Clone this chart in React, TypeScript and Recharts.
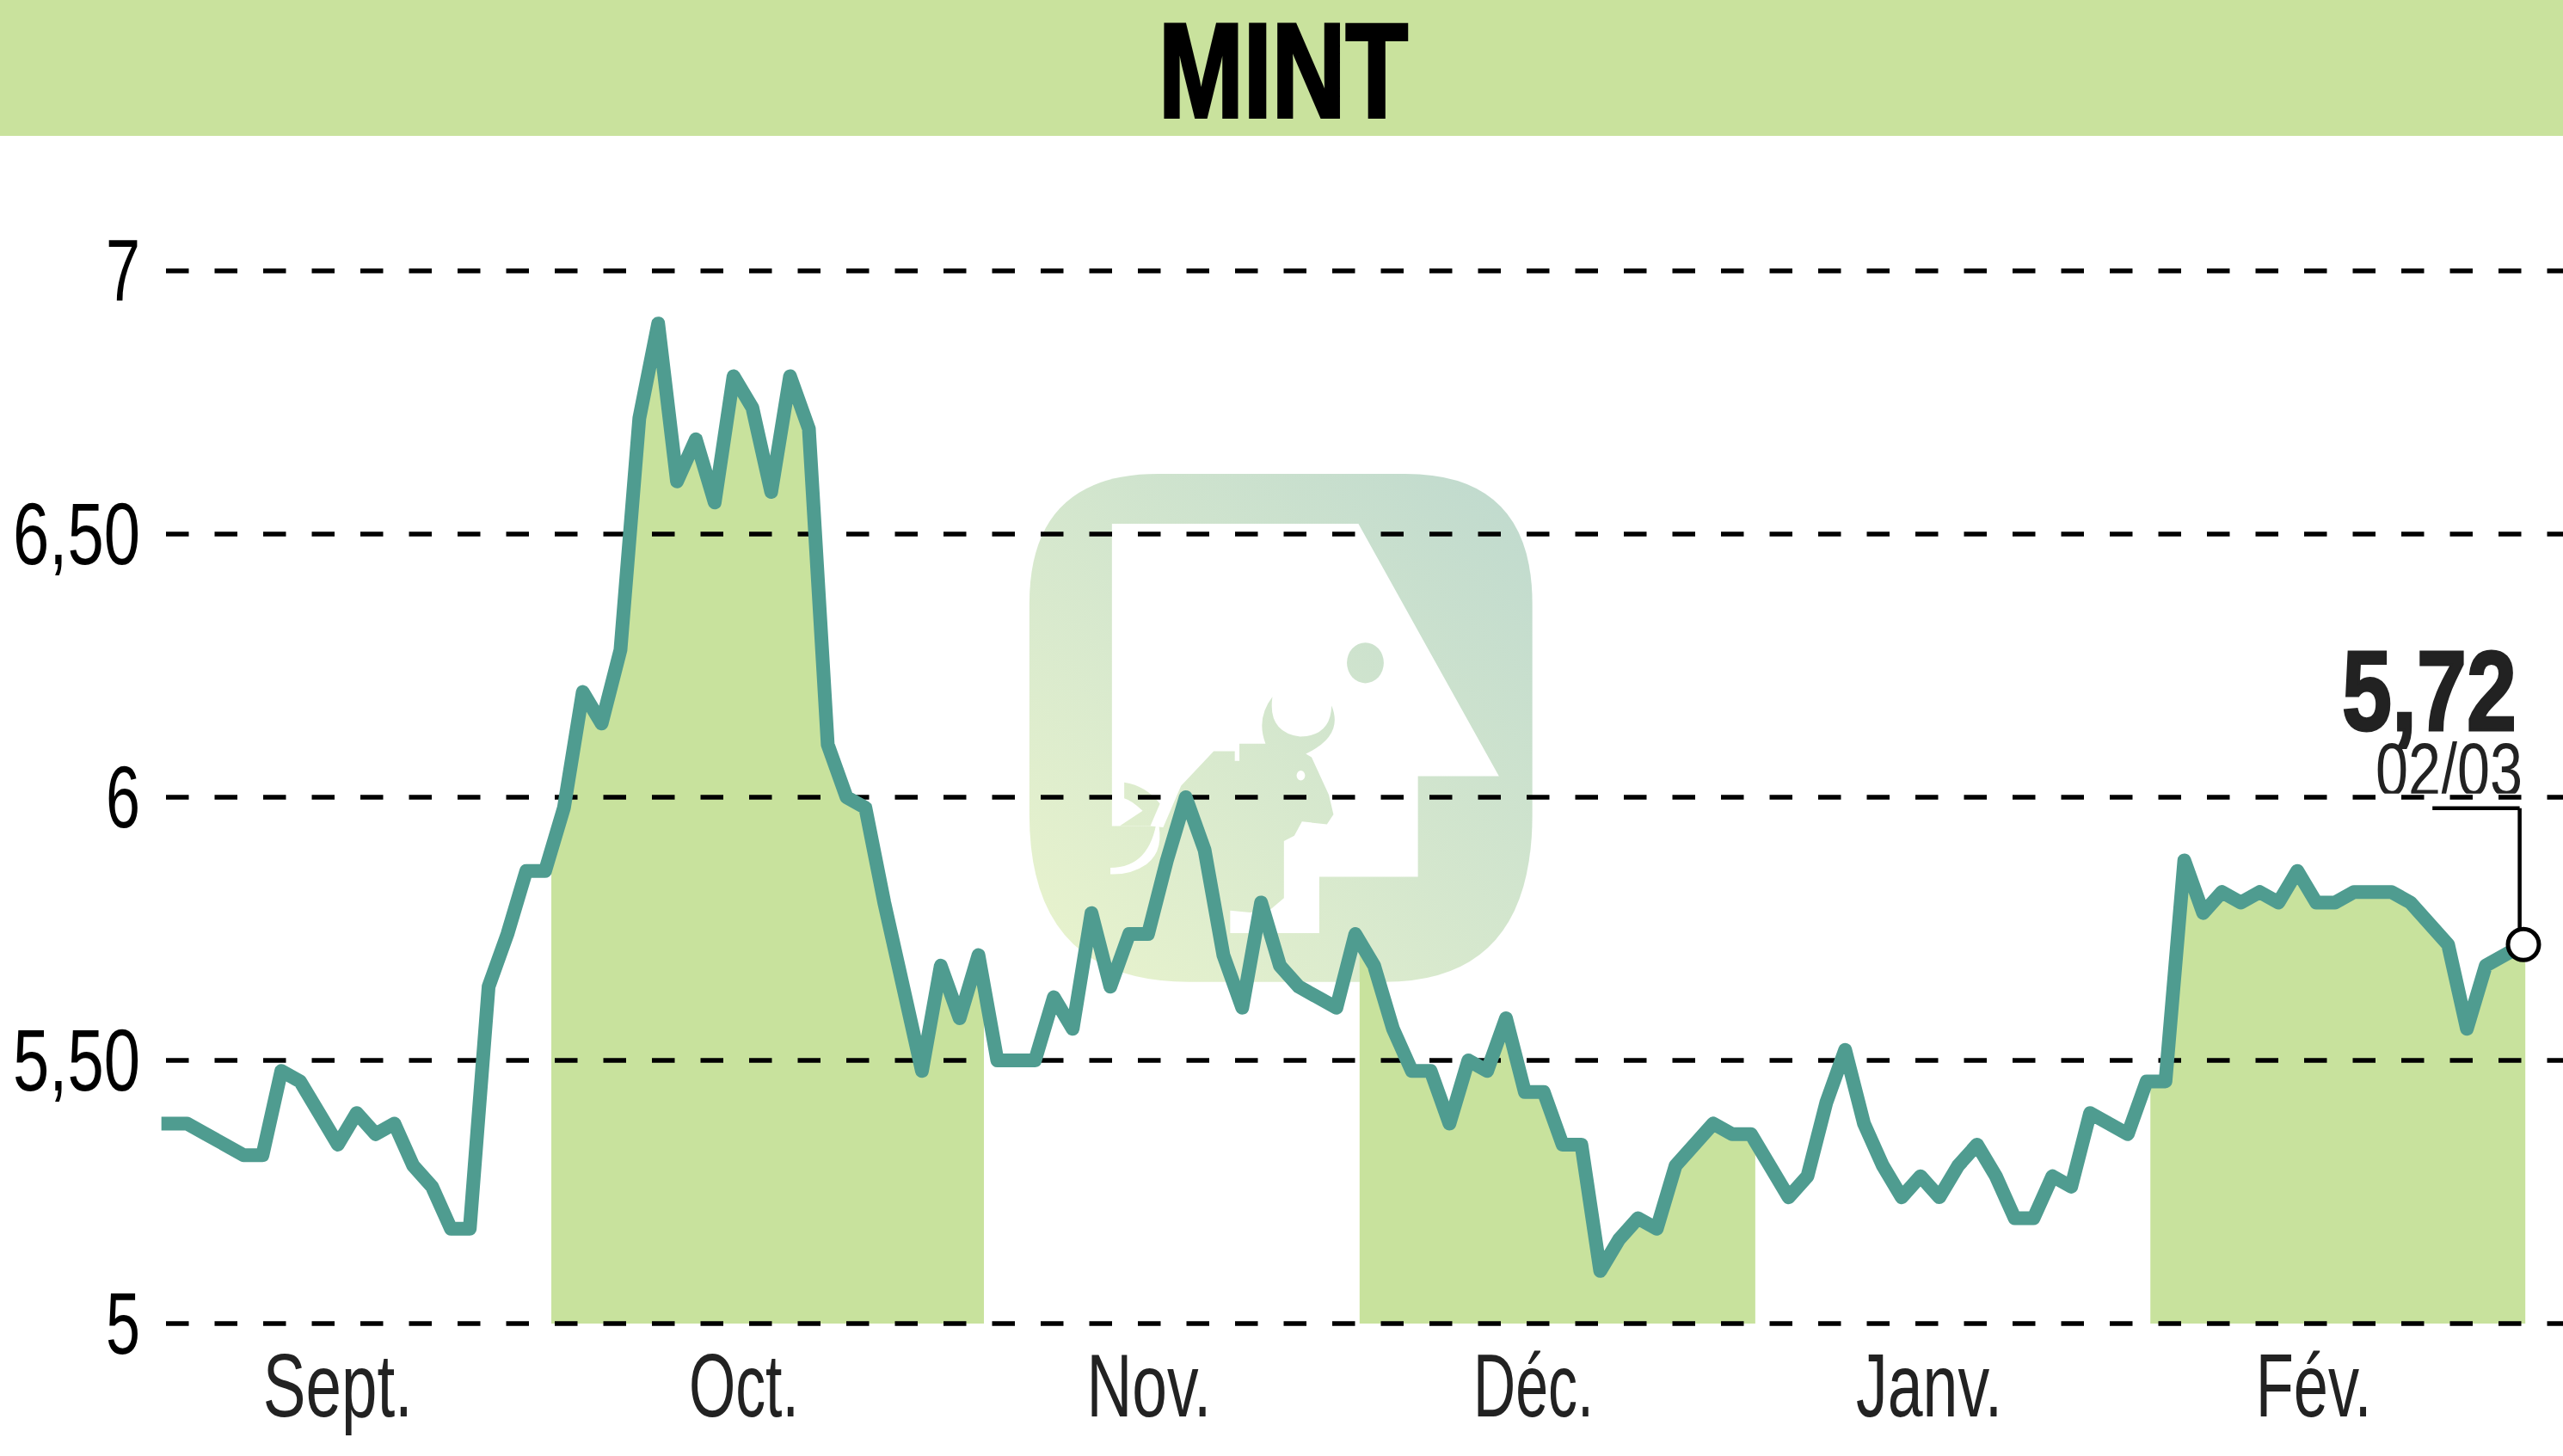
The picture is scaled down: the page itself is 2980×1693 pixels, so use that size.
import React from 'react'
import {
  ComposedChart,
  Area,
  Line,
  XAxis,
  YAxis,
  CartesianGrid,
  ReferenceArea,
  ReferenceDot,
  ReferenceLine,
} from 'recharts'

const WIDTH = 2980
const HEIGHT = 1693
const FONT = '"Liberation Sans Narrow", "Liberation Sans", sans-serif'

// daily close
const prices = [
  5.38, 5.38, 5.36, 5.34, 5.32, 5.32, 5.48, 5.46, 5.4, 5.34,
  5.4, 5.36, 5.38, 5.3, 5.26, 5.18, 5.18, 5.64, 5.74, 5.86,
  5.86, 5.98, 6.2, 6.14, 6.28, 6.72, 6.9, 6.6, 6.68, 6.56,
  6.8, 6.74, 6.58, 6.8, 6.7, 6.1, 6.0, 5.98, 5.8, 5.64,
  5.48, 5.68, 5.58, 5.7, 5.5, 5.5, 5.5, 5.62, 5.56, 5.78,
  5.64, 5.74, 5.74, 5.88, 6.0, 5.9, 5.7, 5.6, 5.8, 5.68,
  5.64, 5.62, 5.6, 5.74, 5.68, 5.56, 5.48, 5.48, 5.38, 5.5,
  5.48, 5.58, 5.44, 5.44, 5.34, 5.34, 5.1, 5.16, 5.2, 5.18,
  5.3, 5.34, 5.38, 5.36, 5.36, 5.3, 5.24, 5.28, 5.42, 5.52,
  5.38, 5.3, 5.24, 5.28, 5.24, 5.3, 5.34, 5.28, 5.2, 5.2,
  5.28, 5.26, 5.4, 5.38, 5.36, 5.46, 5.46, 5.88, 5.78, 5.82,
  5.8, 5.82, 5.8, 5.86, 5.8, 5.8, 5.82, 5.82, 5.82, 5.8,
  5.76, 5.72, 5.56, 5.68, 5.7, 5.72,
]

// shaded months: the edges fall between two sessions
const bandStarts = [20.33, 63.23, 105.2]
const bandEnds = [43.29, 84.23, 125.1]
const edgeX = [20.33, 43.29, 63.23, 84.23, 105.2, 125.1]
const edgeValues = [5.9, 5.64, 5.73, 5.35, 5.46, 5.72]

const monthTicks = [9.0, 30.55, 52.05, 72.46, 93.46, 113.87]
const monthLabels = ['Sept.', 'Oct.', 'Nov.', 'Déc.', 'Janv.', 'Fév.']
const monthWidths = [174, 128, 145, 140, 170, 135]

const priceTicks = [5, 5.5, 6, 6.5, 7]
const priceLabels = ['5', '5,50', '6', '6,50', '7']
const priceWidths = [40, 148, 40, 148, 40]

const inBand = (x: number) => bandStarts.some((s, i) => x >= s && x <= bandEnds[i])

const rows = [
  ...prices.map((price, x) => ({ x, price, band: inBand(x) ? price : null })),
  ...edgeX.map((x, i) => ({ x, price: null, band: edgeValues[i] })),
].sort((a, b) => a.x - b.x)

const lastX = prices.length - 1
const lastPrice = prices[lastX]

const PriceTick = ({ x, y, index }: any) => (
  <text
    x={x}
    y={y + 35}
    textAnchor="end"
    fontFamily={FONT}
    fontSize={102}
    fill="#000"
    textLength={priceWidths[index]}
    lengthAdjust="spacingAndGlyphs"
  >
    {priceLabels[index]}
  </text>
)

const MonthTick = ({ x, y, index }: any) => (
  <text
    x={x}
    y={y + 100}
    textAnchor="middle"
    fontFamily={FONT}
    fontSize={104}
    fill="#222"
    textLength={monthWidths[index]}
    lengthAdjust="spacingAndGlyphs"
  >
    {monthLabels[index]}
  </text>
)

// faded logo behind the plot, drawn in a 700x650 box
const Watermark = () => (
  <g transform="translate(1150 520) scale(0.4464 0.4145)">
    <defs>
      <linearGradient id="logoFill" gradientUnits="userSpaceOnUse" x1="105" y1="1400" x2="1415" y2="150">
        <stop offset="0%" stopColor="#E8F3CD" />
        <stop offset="100%" stopColor="#C0DACE" />
      </linearGradient>
    </defs>
    <path
      d="M440 75 H1085 Q1415 75 1415 440 V1030 Q1415 1500 1030 1500 H520 Q105 1500 105 1030 V440 Q105 75 440 75 Z"
      fill="url(#logoFill)"
    />
    <path
      d="M320 215 H962 L1328 923 H1117 V1205 H860 V1363 H628 V1300 L768 1100 L420 1063 H320 Z"
      fill="#fff"
    />
    <path
      d="M500 950 L585 853 H640 V880 H652 V832 H720 Q695 760 738 700 Q725 800 810 812 Q890 810 892 725 Q925 810 825 860 L840 870 L885 975 L897 1030 L880 1058 L815 1050 L795 1090 L768 1105 V1265 L735 1295 L680 1305 L628 1300 L500 1200 L440 1100 Z"
      fill="url(#logoFill)"
    />
    <path d="M352 940 Q410 950 445 1000 L420 1063 H340 L400 1020 Q370 990 352 985 Z" fill="url(#logoFill)" />
    <path d="M316 1180 Q420 1180 438 1040 Q460 1130 410 1170 Q370 1200 316 1198 Z" fill="#fff" />
    <ellipse cx="980" cy="605" rx="48" ry="57" fill="url(#logoFill)" />
    <ellipse cx="812" cy="921" rx="11" ry="14" fill="#fff" />
  </g>
)

export default function App() {
  return (
    <div style={{ position: 'absolute', left: 0, top: 0, width: WIDTH, height: HEIGHT, background: '#fff' }}>
      <ComposedChart
        width={WIDTH}
        height={HEIGHT}
        data={rows}
        margin={{ top: 315, right: 0, bottom: 0, left: 0 }}
      >
        <rect x={0} y={0} width={WIDTH} height={158} fill="#C9E29D" />
        <text
          x={1492}
          y={136}
          textAnchor="middle"
          fontFamily={FONT}
          fontWeight="bold"
          fontSize={156}
          fill="#000"
          stroke="#000"
          strokeWidth={4}
          textLength={290}
          lengthAdjust="spacingAndGlyphs"
        >
          MINT
        </text>
        <Watermark />

        <XAxis
          dataKey="x"
          type="number"
          domain={[-0.35, 127.1]}
          ticks={monthTicks}
          tick={<MonthTick />}
          height={154}
          axisLine={false}
          tickLine={false}
          interval={0}
        />
        <YAxis
          type="number"
          domain={[5, 7]}
          ticks={priceTicks}
          tick={<PriceTick />}
          width={188}
          axisLine={false}
          tickLine={false}
          tickSize={0}
          tickMargin={25}
          interval={0}
        />

        <Area
          dataKey="band"
          type="linear"
          stroke="none"
          fill="#C8E29D"
          fillOpacity={1}
          dot={false}
          activeDot={false}
          isAnimationActive={false}
        />
        <CartesianGrid
          vertical={false}
          stroke="#000"
          strokeWidth={5.5}
          strokeDasharray="0 5 26.5 25"
          zIndex={150}
        />
        <ReferenceArea x1={114.6} x2={126.3} y1={5.993} y2={6.007} fill="#fff" fillOpacity={1} stroke="none" />
        <Line
          dataKey="price"
          type="linear"
          stroke="#4F9C90"
          strokeWidth={16}
          strokeLinecap="square"
          strokeLinejoin="round"
          connectNulls
          dot={false}
          activeDot={false}
          isAnimationActive={false}
        />

        <ReferenceLine
          segment={[
            { x: 120.17, y: 5.979 },
            { x: 124.8, y: 5.979 },
          ]}
          stroke="#000"
          strokeWidth={4.5}
        />
        <ReferenceLine
          segment={[
            { x: 124.8, y: 5.979 },
            { x: 124.8, y: 5.74 },
          ]}
          stroke="#000"
          strokeWidth={4.5}
        />
        <ReferenceDot x={lastX} y={lastPrice} r={18} fill="#fff" stroke="#000" strokeWidth={5} />

        <text
          x={2926}
          y={849}
          textAnchor="end"
          fontFamily={FONT}
          fontWeight="bold"
          fontSize={132}
          fill="#222"
          stroke="#222"
          strokeWidth={3}
          textLength={203}
          lengthAdjust="spacingAndGlyphs"
        >
          5,72
        </text>
        <text
          x={2933}
          y={925}
          textAnchor="end"
          fontFamily={FONT}
          fontSize={88}
          fill="#222"
          textLength={171}
          lengthAdjust="spacingAndGlyphs"
        >
          02/03
        </text>
      </ComposedChart>
    </div>
  )
}
